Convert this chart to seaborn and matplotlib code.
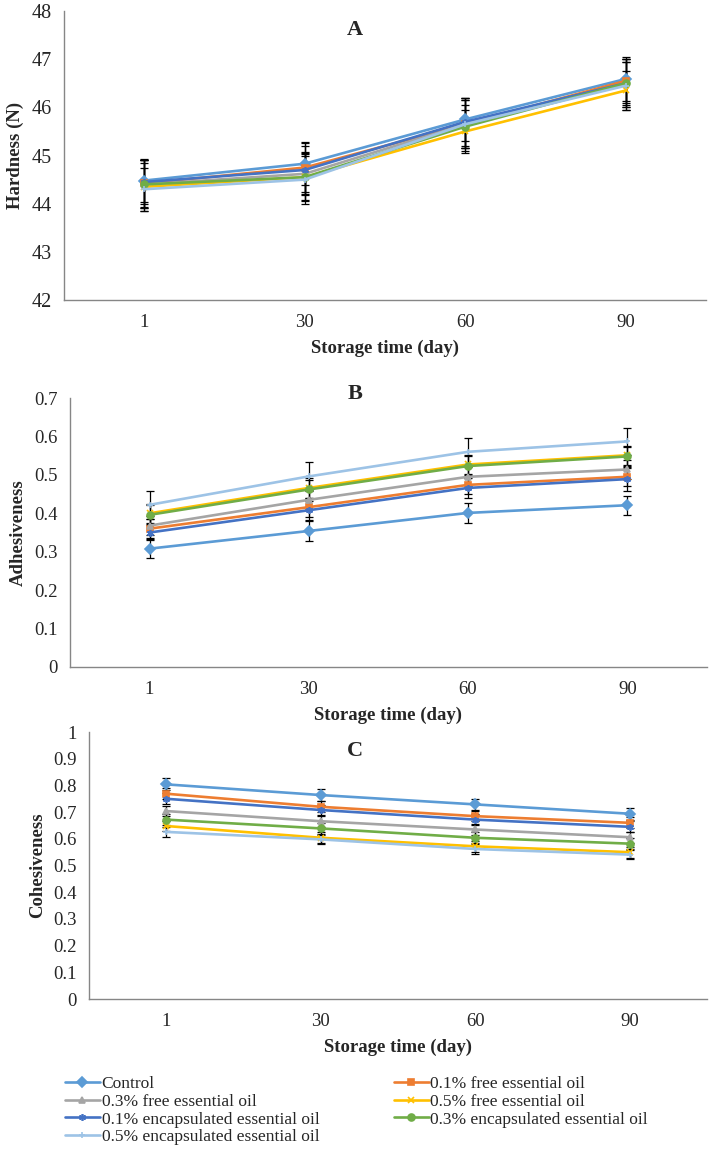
import numpy as np
import pandas as pd
import matplotlib
matplotlib.use('Agg')
import matplotlib.pyplot as plt
import seaborn as sns

sns.set_style('white')
plt.rcParams['font.family'] = ['Liberation Serif', 'DejaVu Serif']

# Данные
days = ['1', '30', '60', '90']
treatments = ['Control', '0.1% free essential oil', '0.3% free essential oil',
              '0.5% free essential oil', '0.1% encapsulated essential oil',
              '0.3% encapsulated essential oil', '0.5% encapsulated essential oil']
colors = ['#5B9BD5', '#ED7D31', '#A5A5A5', '#FFC000', '#4472C4', '#70AD47', '#9DC3E6']
markers = ['D', 's', '^', 'x', (6, 2, 0), 'o', '+']

hardness = [
    [44.48, 44.83, 45.75, 46.59],
    [44.42, 44.75, 45.65, 46.55],
    [44.40, 44.62, 45.65, 46.50],
    [44.35, 44.55, 45.50, 46.35],
    [44.45, 44.70, 45.70, 46.50],
    [44.40, 44.55, 45.60, 46.50],
    [44.30, 44.50, 45.65, 46.45],
]
hardness_err = [
    [0.45, 0.45, 0.45, 0.45],
    [0.48, 0.50, 0.50, 0.45],
    [0.50, 0.45, 0.50, 0.50],
    [0.50, 0.50, 0.45, 0.40],
    [0.45, 0.50, 0.50, 0.45],
    [0.50, 0.48, 0.45, 0.50],
    [0.45, 0.50, 0.55, 0.50],
]

adhesiveness = [
    [0.308, 0.354, 0.401, 0.421],
    [0.360, 0.416, 0.474, 0.495],
    [0.368, 0.435, 0.495, 0.514],
    [0.400, 0.466, 0.527, 0.551],
    [0.350, 0.408, 0.466, 0.489],
    [0.396, 0.462, 0.523, 0.548],
    [0.422, 0.496, 0.560, 0.587],
]
adhesiveness_err = [
    [0.025, 0.025, 0.025, 0.025],
    [0.025, 0.025, 0.025, 0.025],
    [0.025, 0.025, 0.025, 0.025],
    [0.025, 0.025, 0.025, 0.025],
    [0.020, 0.025, 0.025, 0.030],
    [0.025, 0.025, 0.025, 0.025],
    [0.037, 0.038, 0.037, 0.036],
]

cohesiveness = [
    [0.804, 0.764, 0.729, 0.694],
    [0.769, 0.720, 0.685, 0.660],
    [0.704, 0.666, 0.635, 0.606],
    [0.648, 0.604, 0.572, 0.550],
    [0.750, 0.708, 0.672, 0.645],
    [0.672, 0.639, 0.604, 0.582],
    [0.626, 0.598, 0.562, 0.541],
]
cohesiveness_err = [
    [0.022, 0.022, 0.022, 0.022],
    [0.020, 0.020, 0.020, 0.020],
    [0.020, 0.020, 0.020, 0.020],
    [0.020, 0.020, 0.020, 0.020],
    [0.020, 0.020, 0.020, 0.020],
    [0.020, 0.020, 0.020, 0.020],
    [0.018, 0.018, 0.018, 0.018],
]

# (буква, подпись оси y, значения, ошибки, пределы, деления, положение осей, положение буквы, размер шрифта делений)
panels = [
    ('A', 'Hardness (N)', hardness, hardness_err, (42, 48), np.arange(42, 49, 1),
     [0.0903, 0.7389, 0.9055, 0.2515], (0.453, 0.935), 14.5),
    ('B', 'Adhesiveness', adhesiveness, adhesiveness_err, (0, 0.7), np.round(np.arange(0, 0.71, 0.1), 1),
     [0.0987, 0.4195, 0.8983, 0.2341], (0.447, 1.015), 13.5),
    ('C', 'Cohesiveness', cohesiveness, cohesiveness_err, (0, 1), np.round(np.arange(0, 1.01, 0.1), 1),
     [0.1255, 0.1305, 0.8715, 0.2324], (0.43, 0.93), 13.5),
]

fig = plt.figure(figsize=(7.09, 11.49), dpi=100)
axis_gray = '#868686'
xpos = np.arange(len(days))

for title, ylabel, values, errs, ylim, yticks, rect, tpos, tsize in panels:
    ax = fig.add_axes(rect)
    # планки погрешностей
    for vals, err in zip(values, errs):
        ax.errorbar(xpos, vals, yerr=err, fmt='none', ecolor='black',
                    elinewidth=0.9, capsize=3, capthick=0.9, zorder=1)
    for t, vals, c, m in zip(treatments, values, colors, markers):
        sns.lineplot(x=xpos, y=vals, color=c, marker=m, linewidth=1.9,
                     markersize=5, markeredgewidth=1.2, markeredgecolor=c,
                     label=t, ax=ax, zorder=2)

    ax.set_xlim(-0.5, 3.5)
    ax.set_ylim(*ylim)
    ax.set_xticks(xpos)
    ax.set_xticklabels(days)
    ax.set_xticks(np.arange(-0.5, 4, 1), minor=True)
    ax.tick_params(axis='x', which='major', length=0, pad=10, labelsize=13.5)
    ax.tick_params(axis='x', which='minor', length=5, color=axis_gray, direction='out')
    ax.set_yticks(yticks)
    ax.set_yticklabels([f'{v:g}' for v in yticks])
    ax.tick_params(axis='y', length=4, color=axis_gray, direction='out', labelsize=tsize, pad=5)
    for side in ['top', 'right']:
        ax.spines[side].set_visible(False)
    for side in ['left', 'bottom']:
        ax.spines[side].set_color(axis_gray)
        ax.spines[side].set_linewidth(1.0)
    ax.set_xlabel('Storage time (day)', fontsize=13.5, fontweight='bold', labelpad=6)
    ax.set_ylabel(ylabel, fontsize=13.5, fontweight='bold', labelpad=5)
    ax.text(tpos[0], tpos[1], title, transform=ax.transAxes, ha='center', va='center',
            fontsize=16, fontweight='bold')

    handles, labels = ax.get_legend_handles_labels()
    ax.get_legend().remove()

order = [0, 2, 4, 6, 1, 3, 5]
leg = fig.legend([handles[i] for i in order], [labels[i] for i in order],
                 ncol=2, loc='upper left', bbox_to_anchor=(0.082, 0.0696),
                 frameon=False, fontsize=12.5, handlelength=2.0, handletextpad=0.1,
                 labelspacing=0.09, columnspacing=4.3, borderaxespad=0)

fig.savefig('out.png', dpi=100)
